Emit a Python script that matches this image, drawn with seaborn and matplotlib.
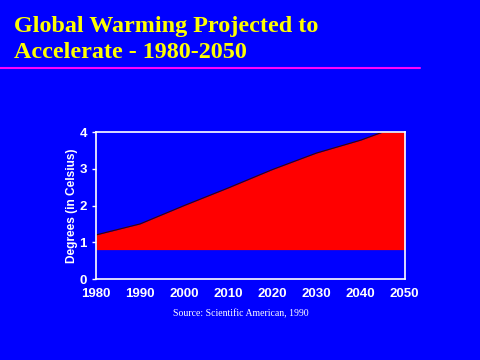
import matplotlib
matplotlib.use("Agg")
import matplotlib.pyplot as plt
import seaborn as sns
import pandas as pd

years = [1980, 1990, 2000, 2010, 2020, 2030, 2040, 2045, 2050]
degrees = [1.2, 1.5, 2.0, 2.48, 2.98, 3.43, 3.78, 4.0, 4.0]
base = 0.8
x_ticks = [1980, 1990, 2000, 2010, 2020, 2030, 2040, 2050]
y_ticks = [0, 1, 2, 3, 4]

df = pd.DataFrame({"year": years, "deg": degrees})

sns.set_style("dark")
blue = "#0000ff"
fig = plt.figure(figsize=(4.8, 3.6), dpi=100, facecolor=blue)
ax = fig.add_axes([0.2, 0.225, 0.643, 0.408])
ax.set_facecolor(blue)

ax.fill_between(df["year"], base, df["deg"], color="#ff0000", linewidth=0)
sns.lineplot(data=df, x="year", y="deg", ax=ax, color="#400000", linewidth=0.8)

ax.set_xlim(1980, 2050)
ax.set_ylim(0, 4)
ax.set_xticks(x_ticks)
ax.set_yticks(y_ticks)
ax.grid(False)
for s in ax.spines.values():
    s.set_color("white")
    s.set_linewidth(1.2)
    s.set_visible(True)
ax.tick_params(colors="white", length=3, width=1, direction="out", bottom=False, left=True)
for lab in ax.get_xticklabels() + ax.get_yticklabels():
    lab.set_fontfamily("Liberation Sans")
    lab.set_fontweight("bold")
    lab.set_fontsize(9.5)
    lab.set_color("white")
ax.set_xlabel("")
ax.set_ylabel("Degrees (in Celsius)", color="white", fontfamily="Liberation Sans",
              fontweight="bold", fontsize=8.6, labelpad=1)

fig.text(0.03, 0.91, "Global Warming Projected to", color="#ffff00",
         fontfamily="Liberation Serif", fontweight="bold", fontsize=17.4, va="baseline")
fig.text(0.03, 0.839, "Accelerate - 1980-2050", color="#ffff00",
         fontfamily="Liberation Serif", fontweight="bold", fontsize=17.4, va="baseline")
fig.add_artist(plt.Line2D([0, 0.875], [0.812, 0.812], color="#ff00ff", linewidth=1.5,
                          transform=fig.transFigure))
fig.text(0.502, 0.122, "Source: Scientific American, 1990", color="white",
         fontfamily="Liberation Serif", fontsize=7, ha="center", va="baseline")

fig.savefig("out.png", dpi=100, facecolor=blue)
